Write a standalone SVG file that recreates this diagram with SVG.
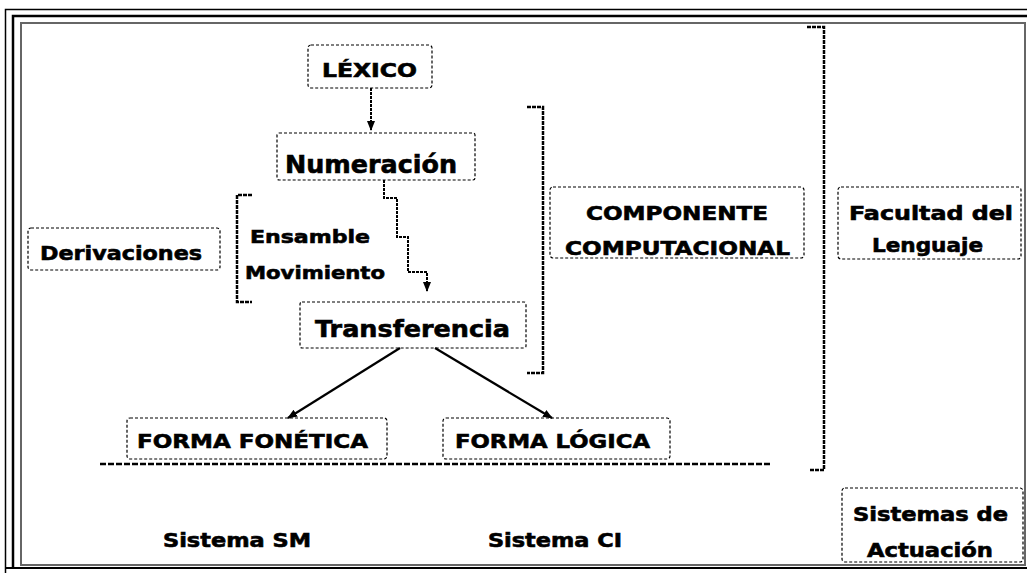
<svg xmlns="http://www.w3.org/2000/svg" width="1027" height="573" viewBox="0 0 1027 573">
<style>
.box{fill:none;stroke:#000;stroke-width:1.2;stroke-dasharray:3 2}
.t{font-family:"DejaVu Sans","Liberation Sans",sans-serif;font-weight:bold;fill:#000;stroke:#000;stroke-width:0.6}
.con{fill:none;stroke:#000;stroke-width:2.2}
.dot{fill:none;stroke:#000;stroke-width:2;stroke-dasharray:3 1}
.br{fill:none;stroke:#000;stroke-width:2.5;stroke-dasharray:4 1}
</style>
<defs>
<marker id="ah" markerUnits="userSpaceOnUse" markerWidth="10" markerHeight="10" refX="9" refY="5" orient="auto">
<path d="M0,1 L10,5 L0,9 Z" fill="#000"/>
</marker>
</defs>
<rect width="1027" height="573" fill="#fff"/>
<g id="frame" fill="none">
<path d="M5.5 573 V9.5 H1027" stroke="#000" stroke-width="1.5"/>
<path d="M13 568 V16 H1027" stroke="#000" stroke-width="2.5"/>
<path d="M5 568 H1027" stroke="#000" stroke-width="2"/>
<rect x="21" y="23" width="1004" height="542" stroke="#666" stroke-width="2"/>
</g>
<g id="connectors">
<path class="dot" d="M371 88 V130" marker-end="url(#ah)"/>
<path class="dot" d="M384 180 V198 H397 V237 H408 V272 H427 V291" marker-end="url(#ah)"/>
<path class="con" d="M400 348 L288 418" marker-end="url(#ah)"/>
<path class="con" d="M435 348 L552 418" marker-end="url(#ah)"/>
</g>
<g id="brackets">
<path class="br" d="M252 195 H237 V302 H252"/>
<path class="br" d="M527 107 H543 V373 H527"/>
<path class="br" d="M807 27 H824 V470 H810"/>
<path d="M100 464 H770" stroke="#000" stroke-width="2.5" stroke-dasharray="6 2" fill="none"/>
</g>
<g id="lexico">
<rect class="box" x="308" y="45" width="124" height="43" rx="3"/>
<text class="t" x="322" y="77" font-size="19" textLength="95" lengthAdjust="spacingAndGlyphs">LÉXICO</text>
</g>
<g id="numeracion">
<rect class="box" x="277" y="133" width="198" height="47" rx="2"/>
<text class="t" x="285" y="173" font-size="24" textLength="172" lengthAdjust="spacingAndGlyphs">Numeración</text>
</g>
<g id="derivaciones">
<rect class="box" x="28" y="228" width="192" height="42" rx="3"/>
<text class="t" x="40" y="260" font-size="20" textLength="162" lengthAdjust="spacingAndGlyphs">Derivaciones</text>
</g>
<g id="ensamble-movimiento">
<text class="t" x="250" y="243" font-size="18" textLength="120" lengthAdjust="spacingAndGlyphs">Ensamble</text>
<text class="t" x="245" y="279" font-size="18" textLength="140" lengthAdjust="spacingAndGlyphs">Movimiento</text>
</g>
<g id="transferencia">
<rect class="box" x="300" y="302" width="226" height="46" rx="2"/>
<text class="t" x="315" y="337" font-size="23" textLength="195" lengthAdjust="spacingAndGlyphs">Transferencia</text>
</g>
<g id="forma-fonetica">
<rect class="box" x="127" y="418" width="260" height="41" rx="3"/>
<text class="t" x="137" y="448" font-size="20" textLength="231" lengthAdjust="spacingAndGlyphs">FORMA FONÉTICA</text>
</g>
<g id="forma-logica">
<rect class="box" x="443" y="418" width="227" height="41" rx="3"/>
<text class="t" x="455" y="448" font-size="20" textLength="195" lengthAdjust="spacingAndGlyphs">FORMA LÓGICA</text>
</g>
<g id="componente">
<rect class="box" x="550" y="187" width="254" height="71" rx="3"/>
<text class="t" x="586" y="220" font-size="19" textLength="182" lengthAdjust="spacingAndGlyphs">COMPONENTE</text>
<text class="t" x="565" y="255" font-size="19" textLength="225" lengthAdjust="spacingAndGlyphs">COMPUTACIONAL</text>
</g>
<g id="facultad">
<rect class="box" x="838" y="187" width="183" height="72" rx="3"/>
<text class="t" x="849" y="220" font-size="19" textLength="164" lengthAdjust="spacingAndGlyphs">Facultad del</text>
<text class="t" x="872" y="252" font-size="19" textLength="111" lengthAdjust="spacingAndGlyphs">Lenguaje</text>
</g>
<g id="sistemas-actuacion">
<rect class="box" x="842" y="488" width="181" height="74" rx="3"/>
<text class="t" x="853" y="521" font-size="19" textLength="155" lengthAdjust="spacingAndGlyphs">Sistemas de</text>
<text class="t" x="867" y="557" font-size="19" textLength="126" lengthAdjust="spacingAndGlyphs">Actuación</text>
</g>
<g id="sistema-sm">
<text class="t" x="163" y="547" font-size="19" textLength="148" lengthAdjust="spacingAndGlyphs">Sistema SM</text>
</g>
<g id="sistema-ci">
<text class="t" x="488" y="547" font-size="19" textLength="134" lengthAdjust="spacingAndGlyphs">Sistema CI</text>
</g>
</svg>
